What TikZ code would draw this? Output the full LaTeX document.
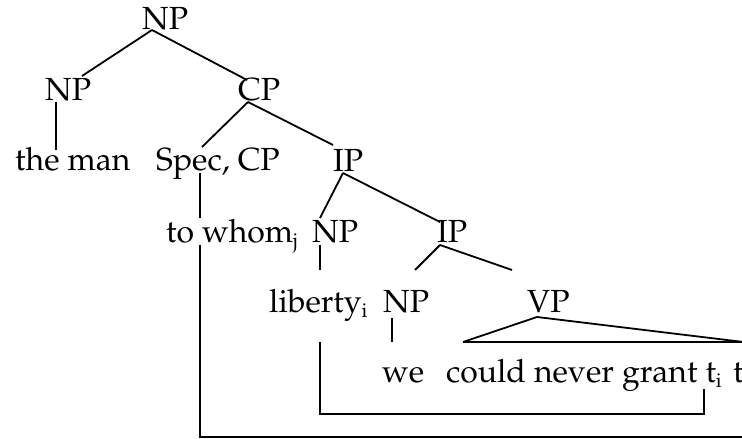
\documentclass[tikz,border=0pt]{standalone}
\IfFileExists{t1ppl.fd}{%
  \usepackage[T1]{fontenc}\renewcommand{\rmdefault}{ppl}%
  \newcommand{\mainsize}{\fontsize{32}{38}\selectfont}%
}{%
  \usepackage{fontspec}\setmainfont{Liberation Serif}%
  \newcommand{\mainsize}{\fontsize{34}{40}\selectfont}%
}
\newcommand{\sbs}[1]{\raisebox{-5pt}{\fontsize{20}{22}\selectfont #1}}
\tikzset{
  lbl/.style={inner sep=0pt, anchor=base west, font=\mainsize},
  edge/.style={line width=1.8pt},
}
\begin{document}
\begin{tikzpicture}[x=1pt,y=-1pt]
\useasboundingbox (0,0) rectangle (742,439);
\clip (0,0) rectangle (742,439);
% labels
\node[lbl] (np0) at (142,29.5) {NP};
\node[lbl] (np1) at (45,100) {NP};
\node[lbl] (cp) at (238,100) {CP};
\node[lbl] (theman) at (15,170) {the man};
\node[lbl] (spec) at (156,170) {Spec, CP};
\node[lbl] (ip1) at (333,171) {IP};
\node[lbl] (whom) at (166,242) {to whom\sbs{j}};
\node[lbl] (np2) at (312,242) {NP};
\node[lbl] (ip2) at (437,242) {IP};
\node[lbl] (liberty) at (269,312) {liberty\sbs{i}};
\node[lbl] (np3) at (383,312) {NP};
\node[lbl] (vp) at (527,312) {VP};
\node[lbl] (we) at (382,382) {we};
\node[lbl] (could) at (446,382) {could never grant t\sbs{i}};
\node[lbl] (tj) at (733,382) {t};
% attachment points
\coordinate (np0b) at (152,30);
\coordinate (np1t) at (82,76);
\coordinate (cpt) at (247,80);
\coordinate (np1b) at (56,102);
\coordinate (themant) at (56,150);
\coordinate (cpb) at (248,102);
\coordinate (spect) at (202,147);
\coordinate (ip1t) at (333,145);
\coordinate (specb) at (200,173);
\coordinate (whomt) at (200,218);
\coordinate (whomb) at (200,245);
\coordinate (jcorner) at (200,437);
\coordinate (jend) at (760,437);
\coordinate (ip1b) at (343,173);
\coordinate (np2t) at (320,218);
\coordinate (ip2t) at (440,222);
\coordinate (np2b) at (320,245);
\coordinate (libertyt) at (320,270);
\coordinate (ip2b) at (440,245);
\coordinate (np3t) at (415,270);
\coordinate (vpt) at (512,270);
\coordinate (np3b) at (392,318);
\coordinate (wet) at (392,342);
\coordinate (vpb) at (537,317);
\coordinate (triL) at (463,342);
\coordinate (triR) at (760,344);
\coordinate (triBR) at (760,342);
\coordinate (libertyb) at (320,342);
\coordinate (icorner1) at (320,414);
\coordinate (icorner2) at (704,414);
\coordinate (tib) at (704,389);
% tree edges
\draw[edge] (np0b) -- (np1t);
\draw[edge] (np0b) -- (cpt);
\draw[edge] (np1b) -- (themant);
\draw[edge] (cpb) -- (spect);
\draw[edge] (cpb) -- (ip1t);
\draw[edge] (specb) -- (whomt);
\draw[edge] (ip1b) -- (np2t);
\draw[edge] (ip1b) -- (ip2t);
\draw[edge] (np2b) -- (libertyt);
\draw[edge] (ip2b) -- (np3t);
\draw[edge] (ip2b) -- (vpt);
\draw[edge] (np3b) -- (wet);
\draw[edge] (triL) -- (vpb) -- (triR);
\draw[edge] (triL) -- (triBR);
% movement lines
\draw[edge] (libertyb) -- (icorner1) -- (icorner2) -- (tib);
\draw[edge] (whomb) -- (jcorner) -- (jend);
\end{tikzpicture}
\end{document}
